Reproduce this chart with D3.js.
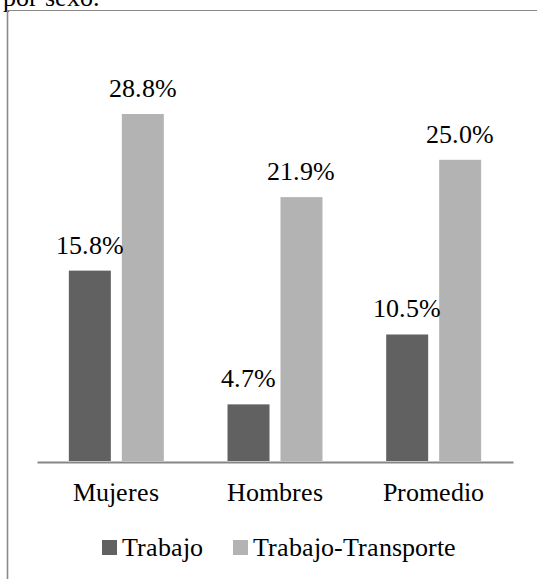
<!DOCTYPE html>
<html>
<head>
<meta charset="utf-8">
<script src="https://cdn.jsdelivr.net/npm/d3@7"></script>
<style>
  @font-face {
    font-family: "ChartSerif";
    src: local("Liberation Serif"), local("LiberationSerif"), local("LiberationSerif-Regular"),
         local("Times New Roman"), local("Tinos"), local("FreeSerif");
  }
  html, body { margin: 0; padding: 0; background: #fff; }
</style>
</head>
<body>
<script>
// Percentage of people by sex, work vs. work + commuting
const categories = ["Mujeres", "Hombres", "Promedio"];
const seriesNames = ["Trabajo", "Trabajo-Transporte"];
const trabajo = [15.8, 4.7, 10.5];
const trabajoTransporte = [28.8, 21.9, 25.0];
const seriesColors = ["#616161", "#b3b3b3"];

const W = 537, H = 579;
const FONT = 'ChartSerif, "Liberation Serif", Tinos, "Times New Roman"';
const serif = sel => sel.style("font-family", FONT).attr("fill", "#000");

const svg = d3.select("body").append("svg").attr("width", W).attr("height", H)
  .style("display", "block");

// Clipped caption line from the preceding text
svg.append("text").attr("x", 3).attr("y", 6)
  .attr("font-size", 26).call(serif).text("por sexo.");

// Frame lines
svg.append("line").attr("x1", 7).attr("x2", W).attr("y1", 10.5).attr("y2", 10.5)
  .attr("stroke", "#8a8a8a").attr("stroke-width", 1.2);
svg.append("line").attr("x1", 7.5).attr("x2", 7.5).attr("y1", 10).attr("y2", H)
  .attr("stroke", "#8a8a8a").attr("stroke-width", 1.6);

const baseY = 461;
const x0 = d3.scaleBand().domain(categories).range([37, 513])
  .paddingInner(0.4014).paddingOuter(0.2007);
const x1 = d3.scaleBand().domain(seriesNames).range([0, x0.bandwidth()])
  .paddingInner(0.2075);
const y = d3.scaleLinear().domain([0, 28.8]).range([baseY, 114]);

const rows = categories.map((c, i) => ({
  cat: c,
  values: [
    { key: seriesNames[0], v: trabajo[i], color: seriesColors[0] },
    { key: seriesNames[1], v: trabajoTransporte[i], color: seriesColors[1] }
  ]
}));

const groups = svg.selectAll("g.grp").data(rows).join("g")
  .attr("class", "grp")
  .attr("transform", d => `translate(${x0(d.cat)},0)`);

groups.selectAll("rect").data(d => d.values).join("rect")
  .attr("x", d => x1(d.key))
  .attr("y", d => y(d.v))
  .attr("width", x1.bandwidth())
  .attr("height", d => baseY - y(d.v))
  .attr("fill", d => d.color);

groups.selectAll("text.val").data(d => d.values).join("text")
  .attr("class", "val")
  .attr("x", d => x1(d.key) + x1.bandwidth() / 2)
  .attr("y", d => y(d.v) - 17)
  .attr("text-anchor", "middle")
  .attr("font-size", 25.5)
  .call(serif)
  .text(d => d.v.toFixed(1) + "%");

// Category axis
const axis = svg.append("g").attr("transform", `translate(0,${baseY + 1})`)
  .call(d3.axisBottom(x0).tickSize(0).tickPadding(21))
  .attr("font-family", null).attr("font-size", 26);
axis.select(".domain").attr("stroke", "#868686").attr("stroke-width", 2);
axis.selectAll("text").call(serif);

// Legend
const legendItems = [
  { name: seriesNames[0], color: seriesColors[0], x: 102 },
  { name: seriesNames[1], color: seriesColors[1], x: 233 }
];
const li = svg.append("g").selectAll("g").data(legendItems).join("g")
  .attr("transform", d => `translate(${d.x},540)`);
li.append("rect").attr("width", 15).attr("height", 15).attr("fill", d => d.color);
li.append("text").attr("x", 20).attr("y", 15.7)
  .attr("font-size", 26).call(serif).text(d => d.name);
</script>
</body>
</html>
